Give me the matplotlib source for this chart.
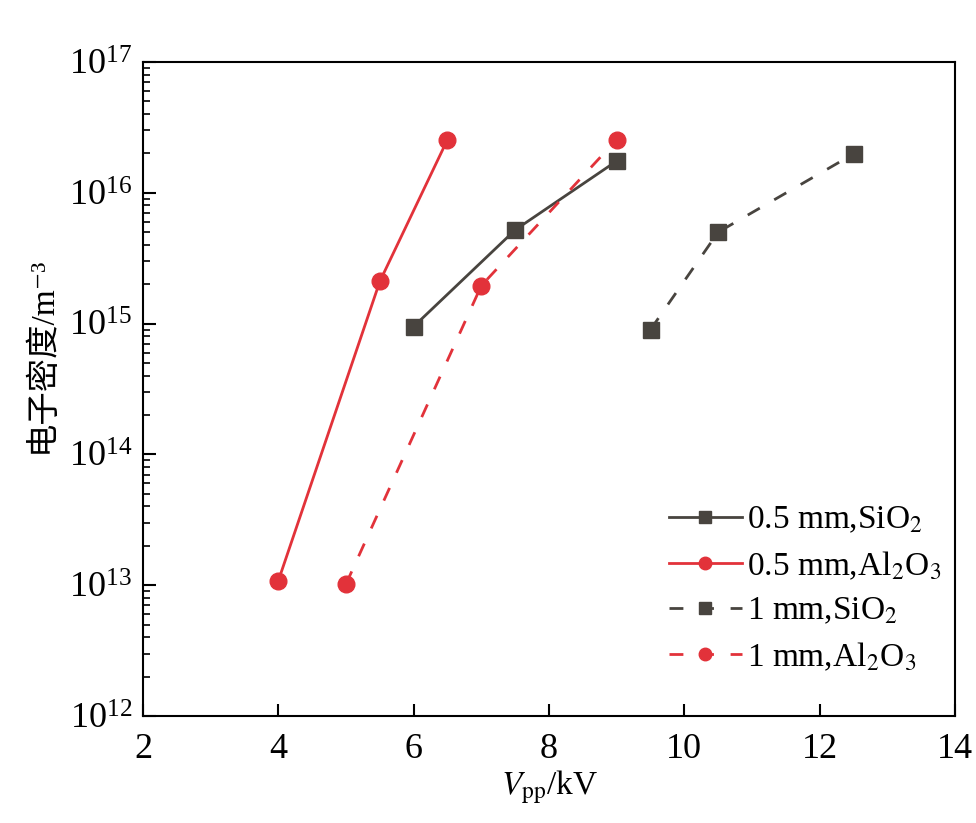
import matplotlib
matplotlib.use("Agg")
import matplotlib.pyplot as plt
from matplotlib.ticker import LogLocator, NullFormatter

plt.rcParams["font.family"] = ["Liberation Serif", "Noto Sans CJK SC", "DejaVu Sans"]
plt.rcParams["mathtext.fontset"] = "stix"

# data
v_05_sio2 = [6.0, 7.5, 9.0]
n_05_sio2 = [9.5e14, 5.2e15, 1.75e16]
v_05_al2o3 = [4.0, 5.5, 6.5]
n_05_al2o3 = [1.08e13, 2.1e15, 2.55e16]
v_1_sio2 = [9.5, 10.5, 12.5]
n_1_sio2 = [9.0e14, 5.0e15, 1.98e16]
v_1_al2o3 = [5.0, 7.0, 9.0]
n_1_al2o3 = [1.02e13, 1.95e15, 2.55e16]

labels = ["0.5 mm,SiO$_2$", "0.5 mm,Al$_2$O$_3$", "1 mm,SiO$_2$", "1 mm,Al$_2$O$_3$"]

gray = "#48443f"
red = "#e2323a"

fig = plt.figure(figsize=(9.76, 8.23), dpi=100)
ax = fig.add_axes([0.1465, 0.130, 0.832, 0.7947])

ax.plot(v_05_sio2, n_05_sio2, color=gray, lw=2, marker="s", ms=11, label=labels[0])
ax.plot(v_05_al2o3, n_05_al2o3, color=red, lw=2, marker="o", ms=12, label=labels[1])
ax.plot(v_1_sio2, n_1_sio2, color=gray, lw=2, ls=(0, (5, 6)), marker="s", ms=11, label=labels[2])
ax.plot(v_1_al2o3, n_1_al2o3, color=red, lw=2, ls=(0, (5, 6)), marker="o", ms=12, label=labels[3])

ax.set_yscale("log")
ax.set_xlim(2, 14)
ax.set_ylim(1e12, 1e17)
ax.set_xticks([2, 4, 6, 8, 10, 12, 14])
ax.yaxis.set_major_locator(LogLocator(base=10, numticks=10))
ax.yaxis.set_minor_locator(LogLocator(base=10, subs=range(2, 10), numticks=10))
ax.yaxis.set_minor_formatter(NullFormatter())

ax.tick_params(axis="both", which="major", direction="in", length=9, width=1.5,
               labelsize=26)
ax.tick_params(axis="x", which="major", pad=12)
ax.tick_params(axis="y", which="major", pad=8)
ax.tick_params(axis="y", which="minor", direction="in", length=5, width=1.2)
for s in ax.spines.values():
    s.set_linewidth(1.5)

ax.set_xlabel(r"$V_{\mathrm{pp}}$/kV", fontsize=24, labelpad=2)
ax.set_ylabel("电子密度/m\u207b\u00b3", fontsize=24)
ax.yaxis.set_label_coords(-0.105, 0.553)

ax.legend(loc="lower right", bbox_to_anchor=(1.02, 0.02), frameon=False,
          fontsize=24, handlelength=2.2, handletextpad=0.15, labelspacing=0.42,
          markerscale=0.75)

fig.savefig("out.png", dpi=100)
plt.close(fig)
